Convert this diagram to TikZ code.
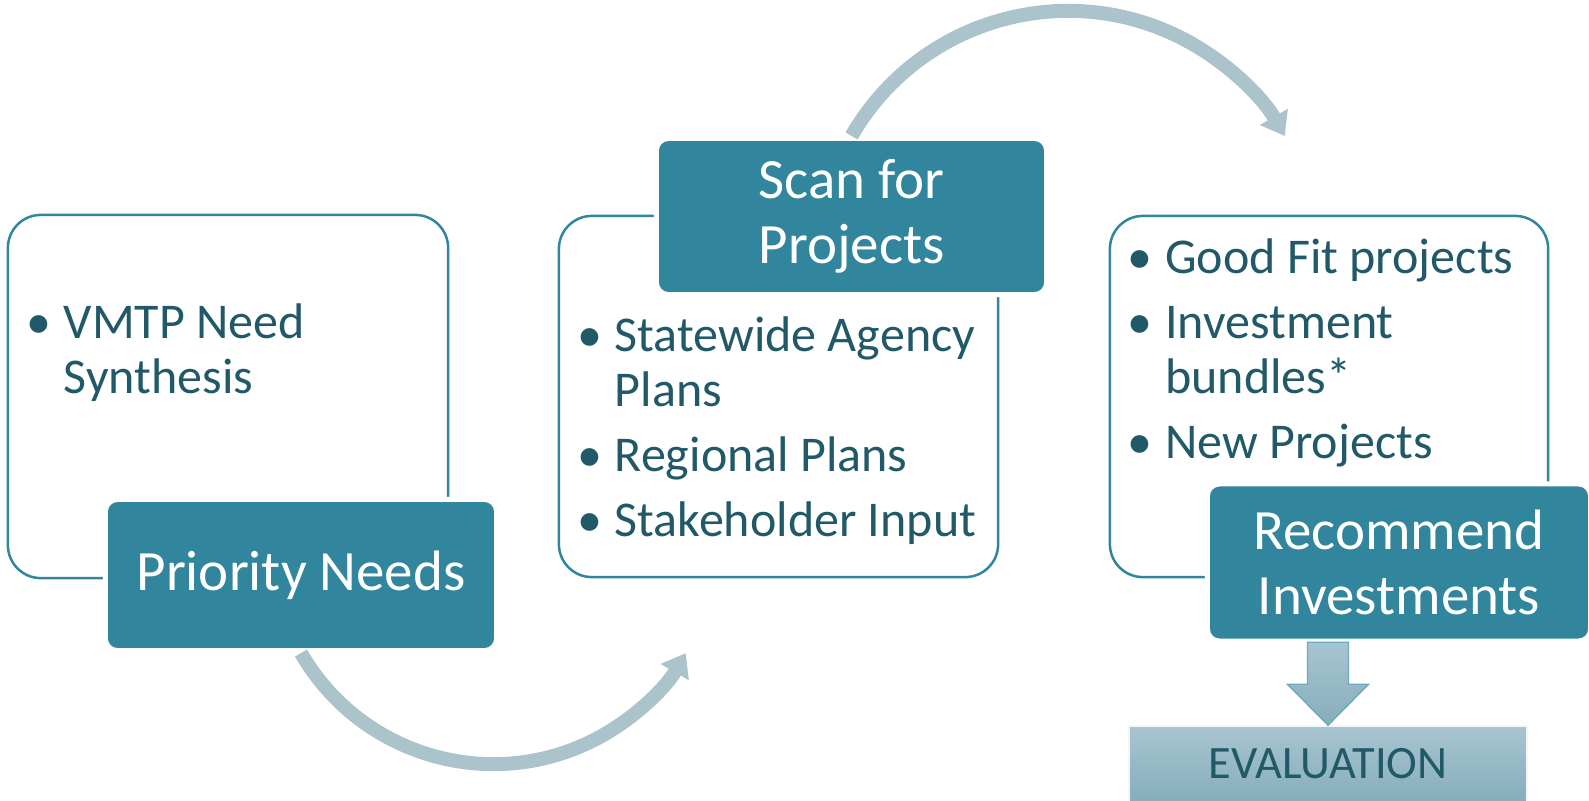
\documentclass[tikz,border=0pt]{standalone}
\usepackage{fontspec}
\setmainfont{Carlito}
\usetikzlibrary{arrows.meta}

\definecolor{tealbox}{HTML}{31859C}
\definecolor{tealtext}{HTML}{215968}
\definecolor{arcgray}{HTML}{ABC4CC}
\definecolor{evaltop}{HTML}{A7C5D0}
\definecolor{evalbot}{HTML}{86ADBC}
\newcommand{\bul}{\makebox[0.375cm][l]{\textbullet}}

\begin{document}
\begin{tikzpicture}[
  x=0.01cm, y=0.01cm,
  outline/.style={draw=tealbox, line width=0.025cm, rounded corners=0.33cm, fill=white},
  title/.style={fill=tealbox, draw=white, line width=0.05cm, rounded corners=0.12cm,
    text=white, align=center, font=\fontsize{16.2}{18.5}\selectfont},
  list/.style={anchor=base west, inner sep=0, text=tealtext,
    font=\fontsize{14.23}{15.65}\selectfont},
  flow/.style={draw=arcgray, line width=0.14cm, -{Triangle[width=0.31cm, length=0.22cm]}}
]
  \useasboundingbox (0, 0) rectangle (1589, -800);

  \draw node[outline, minimum width=4.4cm, minimum height=3.63cm] (needbox) at (228, -396.5) {};
  \draw node[outline, minimum width=4.39cm, minimum height=3.61cm] (scanbox) at (778.5, -396.5) {};
  \draw node[outline, minimum width=4.38cm, minimum height=3.61cm] (recbox) at (1329, -396.5) {};

  \draw node[list] (needlist) at (25.5, -338) {\begin{tabular}[t]{@{}l@{}l@{}}
    \bul & VMTP Need\\
         & Synthesis
  \end{tabular}};
  \draw node[list] (scanlist) at (576.5, -351) {\begin{tabular}[t]{@{}l@{}l@{}}
    \bul & Statewide Agency\\
         & Plans\\[2.85pt]
    \bul & Regional Plans\\[2.85pt]
    \bul & Stakeholder Input
  \end{tabular}};
  \draw node[list] (reclist) at (1127, -273) {\begin{tabular}[t]{@{}l@{}l@{}}
    \bul & Good Fit projects\\[2.85pt]
    \bul & Investment\\
         & bundles*\\[2.85pt]
    \bul & New Projects
  \end{tabular}};

  \draw node[title, minimum width=3.91cm, minimum height=1.51cm] (pn) at (301, -575) {Priority Needs};
  \draw node[title, minimum width=3.9cm, minimum height=1.56cm] (scan) at (851.5, -216.5) {Scan for\\Projects};
  \draw node[title, minimum width=3.83cm, minimum height=1.57cm] (rec) at (1399, -562.5) {Recommend\\Investments};

  \draw[flow] (pn.south) arc[start angle=210, end angle=330, radius=2.22cm];
  \draw[flow] (scan.north) arc[start angle=150, end angle=30, radius=2.5cm];

  \draw node[
    top color=evaltop,
    bottom color=evalbot,
    draw=white!85!evaltop,
    minimum width=3.98cm,
    minimum height=0.76cm,
    text=tealtext,
    font=\fontsize{13.2}{15}\selectfont
  ] (eval) at (1328, -764) {EVALUATION};

  \draw[
    top color=evaltop,
    bottom color=evalbot,
    draw=tealbox!70,
    line width=0.4pt
  ] (eval.north) -- ++(40.5, 41) -- ++(-20, 0) -- ++(0, 42) -- ++(-41, 0)
    -- ++(0, -42) -- ++(-20, 0) -- cycle;

\end{tikzpicture}
\end{document}
